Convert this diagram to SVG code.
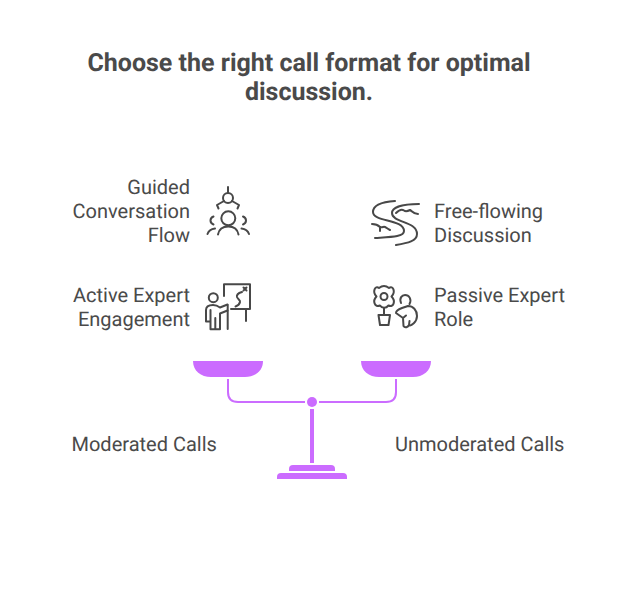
<svg xmlns="http://www.w3.org/2000/svg" width="624" height="600" viewBox="0 0 624 600">
<style>
text{font-family:Roboto,"Liberation Sans",sans-serif;fill:#484848;font-size:20px;text-rendering:geometricPrecision;opacity:.99}
.t{font-size:25px;font-weight:700;text-anchor:middle}
.e{text-anchor:end}
.i{fill:none;stroke:#484848;stroke-width:2;stroke-linecap:round;stroke-linejoin:round}
.p{fill:#cb6cff}
.l{fill:none;stroke:#cb6cff;stroke-width:2}
</style>
<rect width="624" height="600" fill="#fff"/>
<g id="title"><text class="t" x="309" y="71">Choose the right call format for optimal</text><text class="t" x="309" y="100">discussion.</text></g>
<g id="connectors">
<path class="l" d="M228 379V392Q228 402 238 402H305M319 402H386Q396 402 396 392V379"/>
<path class="p" d="M310 409h4v54h-4z"/>
</g>
<g id="scale-left-pan"><path class="p" d="M193 361H263C263 371 255 377 245 377H211C201 377 193 371 193 361Z"/></g>
<g id="scale-right-pan"><path class="p" d="M361 361H431C431 371 423 377 413 377H379C369 377 361 371 361 361Z"/></g>
<g id="scale-pivot"><circle class="p" cx="312" cy="402" r="5"/></g>
<g id="scale-base"><path class="p" d="M289 471V469Q289 465 293 465H331Q335 465 335 469V471Z"/><path class="p" d="M277 479V477Q277 473 281 473H343Q347 473 347 477V479Z"/></g>
<g id="guided"><text class="e" x="190" y="194">Guided</text><text class="e" x="190" y="218">Conversation</text><text class="e" x="190" y="242">Flow</text>
<path class="i" d="M228 187V193"/><circle class="i" cx="228" cy="198" r="5"/><path class="i" d="M224 201L217 205L218.500 208.500M232 201L239 205L237.500 208.500"/>
<circle class="i" cx="228.300" cy="218.300" r="7"/><path class="i" d="M218 234.500C219 229 223 226.500 228.300 226.500C233.500 226.500 237.500 229 238.500 234.500"/>
<path class="i" d="M213.500 216.500C209.500 218 209.500 223 213.500 224.500M243 216.500C247 218 247 223 243 224.500M207.500 234C208.500 231 211 229 215 228.500M249 234C248 231 245.500 229 241.500 228.500"/></g>
<g id="free"><text x="434" y="218">Free-flowing</text><text x="434" y="242">Discussion</text>
<path class="i" d="M395 201C381 202 373 206 373 212C373 222 404 219 404 231C404 237 391 237 375 238"/>
<path class="i" d="M419 204C403 204 392 207 392 213C392 223 417 221 417 234C417 241 408 243 396 245"/>
<path class="i" d="M396 213C399 210 402 209 404 210.500C406 212 408 211 410 210C412 211 413 214 418 214"/>
<path class="i" d="M372 224C375 224 378 225 380 227C382 228 384 226 385 227C387 228 388 229 390 230M380 227V231"/></g>
<g id="active"><text class="e" x="190" y="302">Active Expert</text><text class="e" x="190" y="326">Engagement</text>
<path class="i" d="M224 296V284.300H250V309H231M246 309V321M227.700 305V329"/><path class="i" d="M242 292C238.500 293 236.500 295 237 297C238 299.500 240.500 300 240 302C239.500 304.500 237 306 235.500 306.500"/><path class="i" d="M243.500 287.500L246.500 290.500M246.500 287.500L243.500 290.500"/>
<circle class="i" cx="213.300" cy="297.700" r="4.500"/><path class="i" d="M206 321.500V310C206 306 209 305 213 305C216 305 218 306 220 307.500L227.500 304.500M220 313.500L227.500 310.500M220 313.500V329.300H210.500V310M215.300 318V329.300M206 321.500H210.500"/></g>
<g id="passive"><text x="434" y="302">Passive Expert</text><text x="434" y="326">Role</text>
<circle class="i" cx="384" cy="296.500" r="3.500"/><path class="i" d="M379 288C375 285 372 292 376.500 296.500C372 301 375 308 380 305.500C382 308.500 386 308.500 388.500 305.500C393.500 308 396 301 391.500 296.500C396 292 393 285 389 288C386 285.500 382 285.500 379 288Z"/><path class="i" d="M384 308V315M378.500 315H390L388.500 325H380Z"/>
<path class="i" d="M401 303C399 298 402 295 405 295C409 295 412 299 409.500 304"/><path class="i" d="M402 308C397 310 396 312 396 313L403 318L406 315.500M403 318L403.500 326C405 328.500 408 327 409 325C411 326.500 417 322 417 316C417 310 413 306 408 306L402 308M409 325L409.500 321"/></g>
<g id="moderated"><text x="71.500" y="451">Moderated Calls</text></g>
<g id="unmoderated"><text x="395" y="451">Unmoderated Calls</text></g>
</svg>
